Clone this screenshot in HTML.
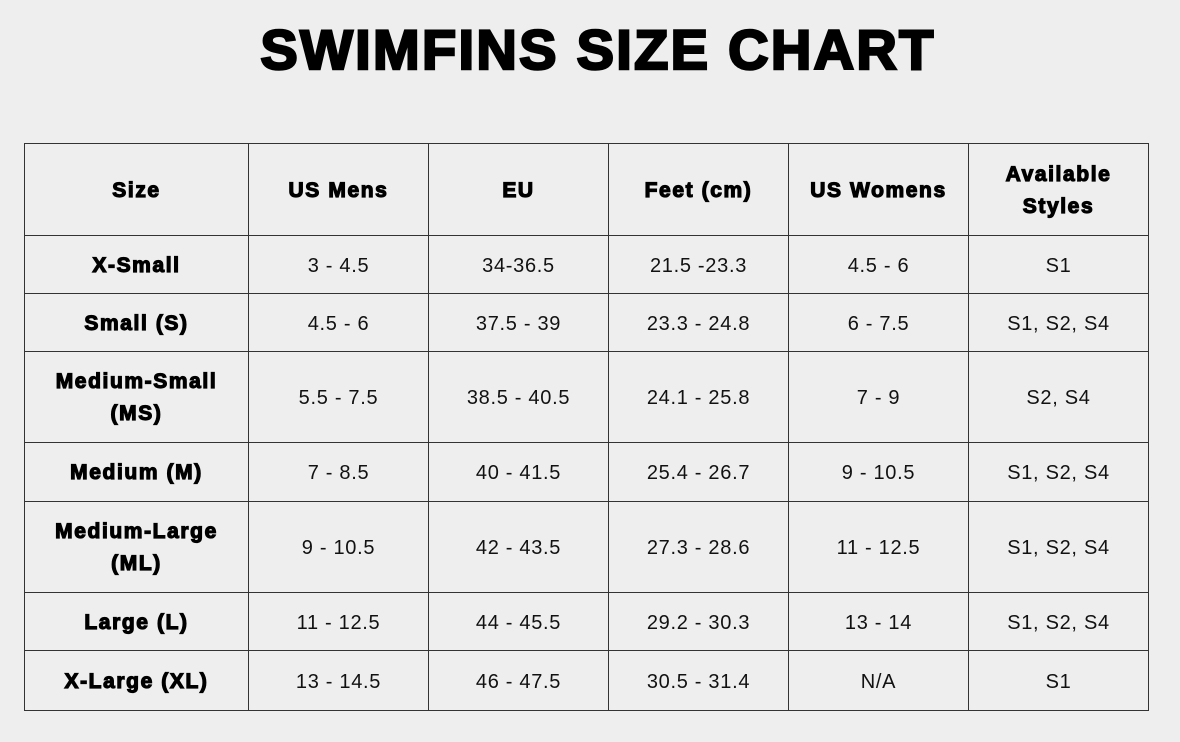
<!DOCTYPE html>
<html><head><meta charset="utf-8"><style>
html,body{margin:0;padding:0;background:#eeeeee;width:1180px;height:742px;overflow:hidden}
h1{position:absolute;left:8px;width:1180px;top:18px;margin:0;text-align:center;font:bold 56px/64px "Liberation Sans",sans-serif;color:#000;-webkit-text-stroke:2.5px #000;letter-spacing:2.3px}
table{position:absolute;left:24px;top:143px;border-collapse:collapse;table-layout:fixed;font-family:"Liberation Sans",sans-serif;font-size:20px;color:#111}
td{border:1px solid #333;text-align:center;vertical-align:middle;padding:2px 0 0 0;line-height:32px;letter-spacing:0.7px}
td.b{font-weight:bold;font-size:21px;-webkit-text-stroke:1.2px #000;color:#000;letter-spacing:1.6px}
</style></head><body>
<h1>SWIMFINS SIZE CHART</h1>
<table>
<colgroup><col style="width:224px"><col style="width:180px"><col style="width:180px"><col style="width:180px"><col style="width:180px"><col style="width:180px"></colgroup>
<tr style="height:92px"><td class="b">Size</td><td class="b">US Mens</td><td class="b">EU</td><td class="b">Feet (cm)</td><td class="b">US Womens</td><td class="b">Available<br>Styles</td></tr>
<tr style="height:58px"><td class="b">X-Small</td><td>3 - 4.5</td><td>34-36.5</td><td>21.5 -23.3</td><td>4.5 - 6</td><td>S1</td></tr>
<tr style="height:58px"><td class="b">Small (S)</td><td>4.5 - 6</td><td>37.5 - 39</td><td>23.3 - 24.8</td><td>6 - 7.5</td><td>S1, S2, S4</td></tr>
<tr style="height:91px"><td class="b">Medium-Small<br>(MS)</td><td>5.5 - 7.5</td><td>38.5 - 40.5</td><td>24.1 - 25.8</td><td>7 - 9</td><td>S2, S4</td></tr>
<tr style="height:59px"><td class="b">Medium (M)</td><td>7 - 8.5</td><td>40 - 41.5</td><td>25.4 - 26.7</td><td>9 - 10.5</td><td>S1, S2, S4</td></tr>
<tr style="height:91px"><td class="b">Medium-Large<br>(ML)</td><td>9 - 10.5</td><td>42 - 43.5</td><td>27.3 - 28.6</td><td>11 - 12.5</td><td>S1, S2, S4</td></tr>
<tr style="height:58px"><td class="b">Large (L)</td><td>11 - 12.5</td><td>44 - 45.5</td><td>29.2 - 30.3</td><td>13 - 14</td><td>S1, S2, S4</td></tr>
<tr style="height:60px"><td class="b">X-Large (XL)</td><td>13 - 14.5</td><td>46 - 47.5</td><td>30.5 - 31.4</td><td>N/A</td><td>S1</td></tr>
</table>
</body></html>
